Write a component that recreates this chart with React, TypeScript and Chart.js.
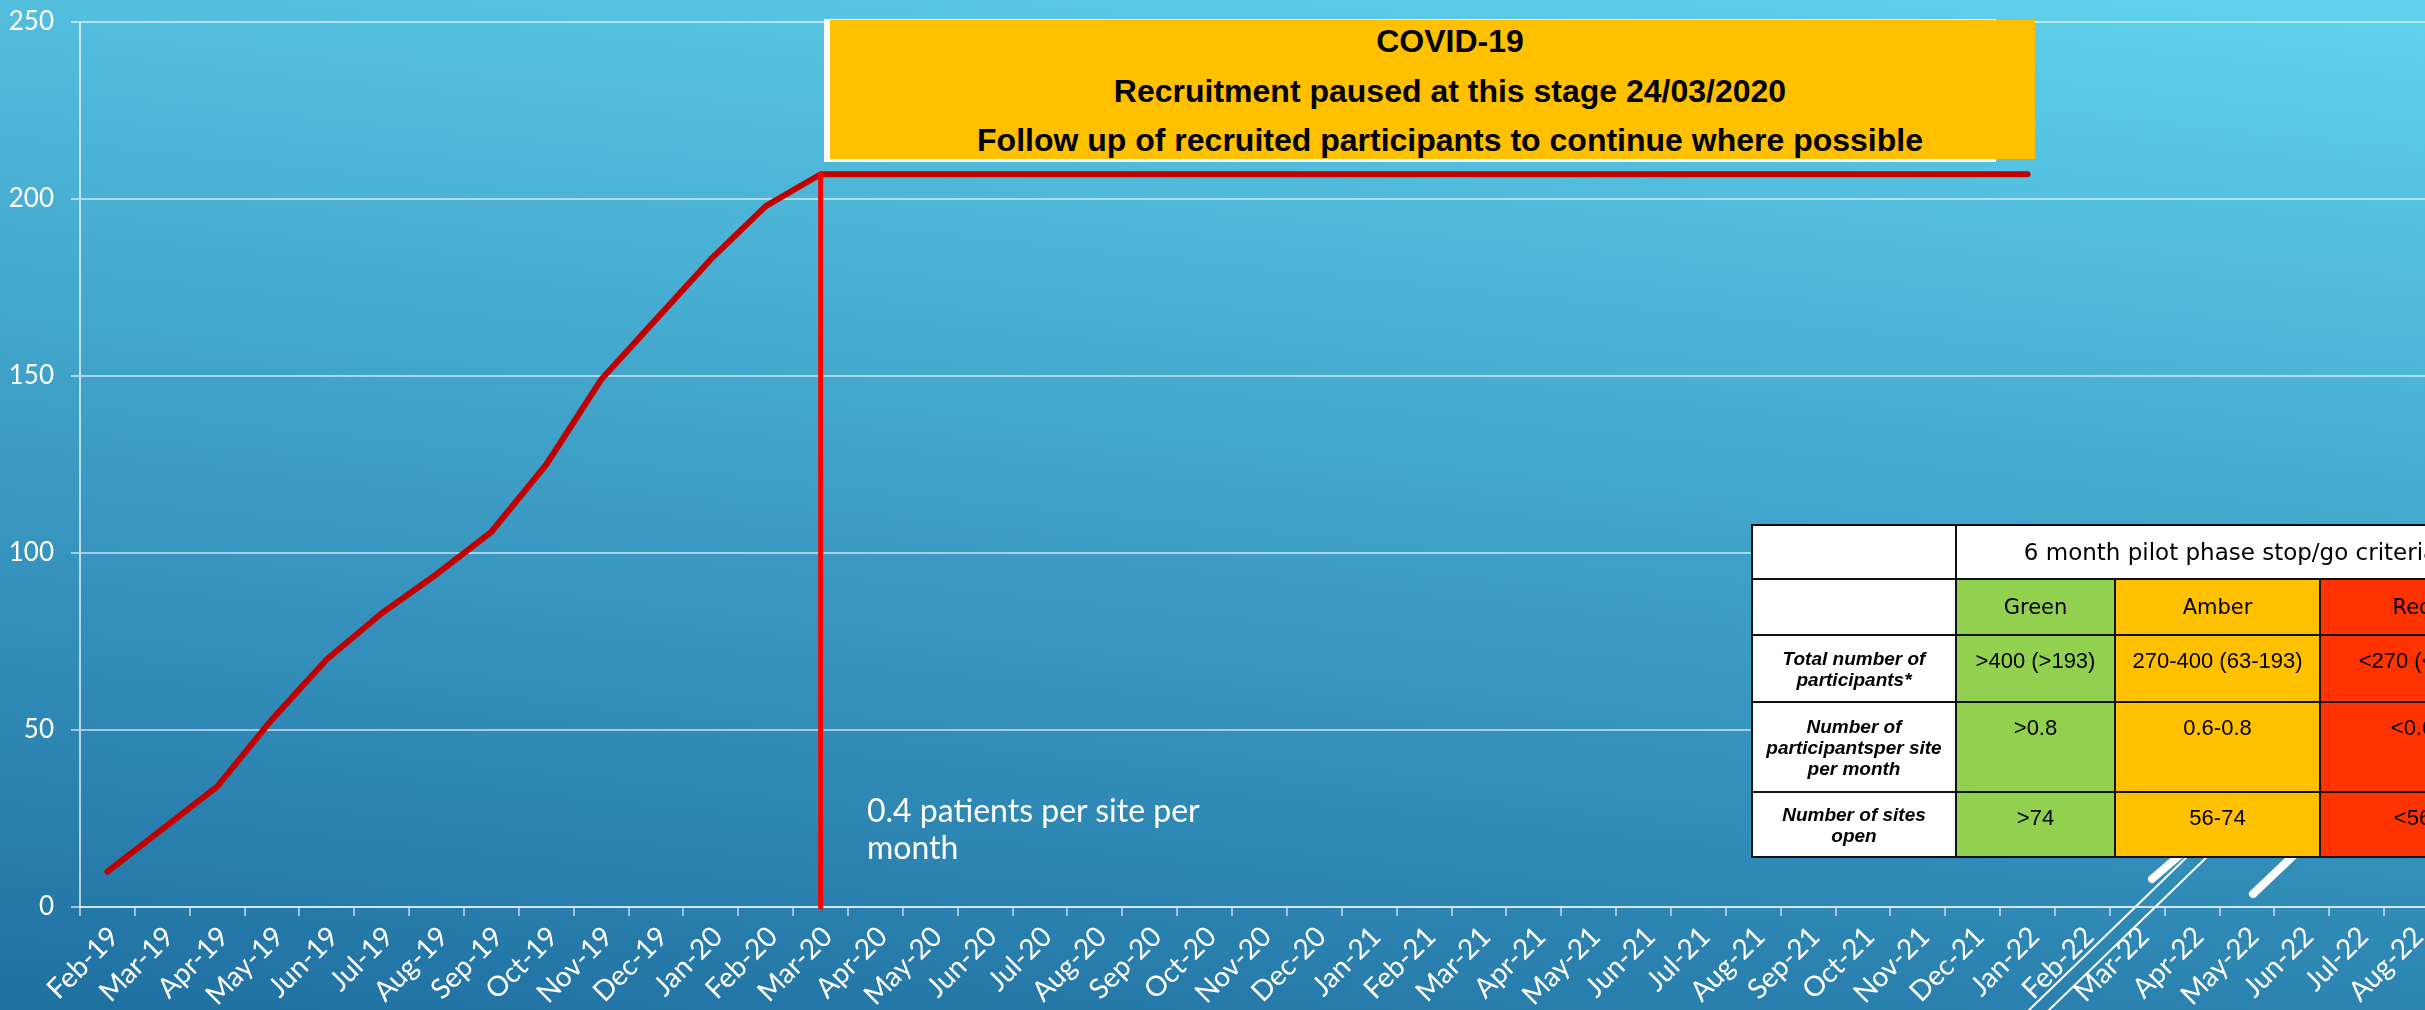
import React, { useEffect, useRef } from "react";
import { Chart, registerables } from "chart.js";

Chart.register(...registerables);

// ---------- data ----------
const months = [
  "Feb-19", "Mar-19", "Apr-19", "May-19", "Jun-19", "Jul-19", "Aug-19", "Sep-19", "Oct-19", "Nov-19", "Dec-19",
  "Jan-20", "Feb-20", "Mar-20", "Apr-20", "May-20", "Jun-20", "Jul-20", "Aug-20", "Sep-20", "Oct-20", "Nov-20", "Dec-20",
  "Jan-21", "Feb-21", "Mar-21", "Apr-21", "May-21", "Jun-21", "Jul-21", "Aug-21", "Sep-21", "Oct-21", "Nov-21", "Dec-21",
  "Jan-22", "Feb-22", "Mar-22", "Apr-22", "May-22", "Jun-22", "Jul-22", "Aug-22",
];

const recruited: (number | null)[] = [
  10, 22, 34, 53, 70, 83, 94, 106, 125, 149, 166, 183, 198, 207,
  207, 207, 207, 207, 207, 207, 207, 207, 207, 207, 207,
  207, 207, 207, 207, 207, 207, 207, 207, 207, 207, 207,
  null, null, null, null, null, null, null,
];

const pauseMonth = "Mar-20";
const pauseValue = 207;

const yMin = 0;
const yMax = 250;
const yStep = 50;

const covidLines = [
  "COVID-19",
  "Recruitment paused at this stage 24/03/2020",
  "Follow up of recruited participants to continue where possible",
];

const rateNote = ["0.4 patients per site per", "month"];

const criteriaTitle = "6 month pilot phase stop/go criteria";
const bands = ["Green", "Amber", "Red"];
const bandColors = ["#92D050", "#FFC000", "#FF3300"];
const criteriaRows = [
  ["Total number of", "participants*"],
  ["Number of", "participantsper site", "per month"],
  ["Number of sites", "open"],
];
const criteriaValues = [
  [">400 (>193)", "270-400 (63-193)", "<270 (<63)"],
  [">0.8", "0.6-0.8", "<0.6"],
  [">74", "56-74", "<56"],
];

// ---------- styling ----------
const gridColor = "rgba(255,255,255,0.55)";

const decoPlugin = {
  id: "deco",
  beforeDraw(chart: any) {
    const ctx = chart.ctx as CanvasRenderingContext2D;
    ctx.save();
    ctx.strokeStyle = "#ffffff";
    ctx.lineCap = "round";
    ctx.lineWidth = 2;
    ctx.beginPath();
    ctx.moveTo(2191, 853);
    ctx.lineTo(2027, 1012);
    ctx.moveTo(2211, 853);
    ctx.lineTo(2047, 1012);
    ctx.stroke();
    ctx.lineWidth = 8;
    ctx.beginPath();
    ctx.moveTo(2180, 855);
    ctx.lineTo(2152, 879);
    ctx.moveTo(2294, 855);
    ctx.lineTo(2253, 894);
    ctx.stroke();
    ctx.restore();
  },
};

export default function App() {
  const canvasRef = useRef<HTMLCanvasElement | null>(null);

  useEffect(() => {
    if (!canvasRef.current) return;
    const chart = new Chart(canvasRef.current, {
      type: "line",
      data: {
        labels: months,
        datasets: [
          {
            label: "pause",
            data: [
              { x: pauseMonth, y: pauseValue },
              { x: pauseMonth, y: 0 },
            ] as any,
            borderColor: "#FF0000",
            borderWidth: 5,
            borderCapStyle: "round",
            pointRadius: 0,
            tension: 0,
            clip: 10,
          } as any,
          {
            label: "Recruited",
            data: recruited,
            borderColor: "#C00000",
            borderWidth: 6,
            borderCapStyle: "round",
            borderJoinStyle: "round",
            pointRadius: 0,
            tension: 0,
            spanGaps: false,
          } as any,
        ],
      },
      options: {
        responsive: false,
        animation: false,
        layout: { padding: { left: 0, right: 6, top: 22, bottom: 0 } },
        plugins: {
          legend: { display: false },
          tooltip: { enabled: false },
        },
        scales: {
          x: {
            type: "category",
            offset: true,
            grid: {
              display: true,
              drawOnChartArea: false,
              drawTicks: true,
              tickLength: 9,
              offset: true,
              color: gridColor,
              lineWidth: 2,
            },
            border: { display: true, color: gridColor, width: 2 },
            ticks: {
              color: "#ffffff",
              font: { family: "Lato", size: 28 },
              minRotation: 45,
              maxRotation: 45,
              autoSkip: false,
              padding: 4,
              labelOffset: 7,
            },
            afterFit(scale: any) {
              scale.height = 103;
            },
          },
          y: {
            min: yMin,
            max: yMax,
            ticks: {
              stepSize: yStep,
              color: "#ffffff",
              font: { family: "Lato", size: 26 },
              padding: 17,
            },
            grid: {
              color: gridColor,
              lineWidth: 2,
              drawTicks: true,
              tickLength: 9,
            },
            border: { display: true, color: "rgba(255,255,255,0.65)", width: 2 },
            afterFit(scale: any) {
              scale.width = 80;
              scale.paddingTop = 0;
              scale.paddingBottom = 0;
            },
          },
        },
      } as any,
      plugins: [decoPlugin],
    });
    return () => chart.destroy();
  }, []);

  const cellBorder = "2px solid #111";
  const labelCell: React.CSSProperties = {
    border: cellBorder,
    background: "#ffffff",
    textAlign: "center",
    verticalAlign: "middle",
    fontFamily: "'Liberation Sans', Arial, sans-serif",
    fontWeight: "bold",
    fontStyle: "italic",
    fontSize: 19,
    lineHeight: "21px",
    color: "#000",
    padding: 0,
  };
  const valueCell = (bg: string): React.CSSProperties => ({
    border: cellBorder,
    background: bg,
    textAlign: "center",
    verticalAlign: "top",
    paddingTop: 13,
    fontFamily: "'Liberation Sans', Arial, sans-serif",
    fontSize: 22,
    lineHeight: "24px",
    color: "#000",
    whiteSpace: "nowrap",
    overflow: "hidden",
  });
  const headCell = (bg: string): React.CSSProperties => ({
    border: cellBorder,
    background: bg,
    textAlign: "center",
    verticalAlign: "middle",
    fontFamily: "'DejaVu Sans', sans-serif",
    fontSize: 21,
    color: "#000",
    padding: 0,
    whiteSpace: "nowrap",
  });

  return (
    <div
      style={{
        position: "absolute",
        left: 0,
        top: 0,
        width: 2425,
        height: 1010,
        overflow: "hidden",
        background: "linear-gradient(186deg, #60D2EE 0%, #1F70A2 100%)",
      }}
    >
      <canvas
        ref={canvasRef}
        width={2445}
        height={1010}
        style={{ position: "absolute", left: 0, top: 0, width: 2445, height: 1010 }}
      />

      {/* COVID-19 box */}
      <div
        style={{
          position: "absolute",
          left: 824,
          top: 19,
          width: 1172,
          height: 143,
          background: "#ffffff",
        }}
      />
      <div
        style={{
          position: "absolute",
          left: 830,
          top: 20,
          width: 1205,
          height: 139,
          background: "#FFC000",
        }}
      />
      <div
        style={{
          position: "absolute",
          left: 850,
          top: 17,
          width: 1200,
          textAlign: "center",
          fontFamily: "'Liberation Sans', Arial, sans-serif",
          fontWeight: "bold",
          fontSize: 32,
          lineHeight: "49.5px",
          color: "#000",
          whiteSpace: "nowrap",
        }}
      >
        {covidLines.map((t, i) => (
          <div key={i}>{t}</div>
        ))}
      </div>

      {/* rate note */}
      <div
        style={{
          position: "absolute",
          left: 867,
          top: 791,
          fontFamily: "Lato, 'Open Sans', sans-serif",
          fontSize: 32,
          lineHeight: "37px",
          color: "#ffffff",
          whiteSpace: "nowrap",
        }}
      >
        {rateNote.map((t, i) => (
          <div key={i}>{t}</div>
        ))}
      </div>

      {/* criteria table */}
      <table
        style={{
          position: "absolute",
          left: 1751,
          top: 524,
          borderCollapse: "collapse",
          tableLayout: "fixed",
          width: 204 + 159 + 205 + 185,
        }}
      >
        <colgroup>
          <col style={{ width: 204 }} />
          <col style={{ width: 159 }} />
          <col style={{ width: 205 }} />
          <col style={{ width: 185 }} />
        </colgroup>
        <tbody>
          <tr style={{ height: 54 }}>
            <td style={headCell("#ffffff")} />
            <td colSpan={3} style={{ ...headCell("#ffffff"), fontSize: 23 }}>
              {criteriaTitle}
            </td>
          </tr>
          <tr style={{ height: 56 }}>
            <td style={headCell("#ffffff")} />
            {bands.map((b, i) => (
              <td key={b} style={headCell(bandColors[i])}>
                {b}
              </td>
            ))}
          </tr>
          {criteriaRows.map((lines, r) => (
            <tr key={r} style={{ height: [67, 90, 65][r] }}>
              <td style={labelCell}>
                {lines.map((l, k) => (
                  <div key={k}>{l}</div>
                ))}
              </td>
              {criteriaValues[r].map((v, c) => (
                <td key={c} style={valueCell(bandColors[c])}>
                  {v}
                </td>
              ))}
            </tr>
          ))}
        </tbody>
      </table>
    </div>
  );
}
